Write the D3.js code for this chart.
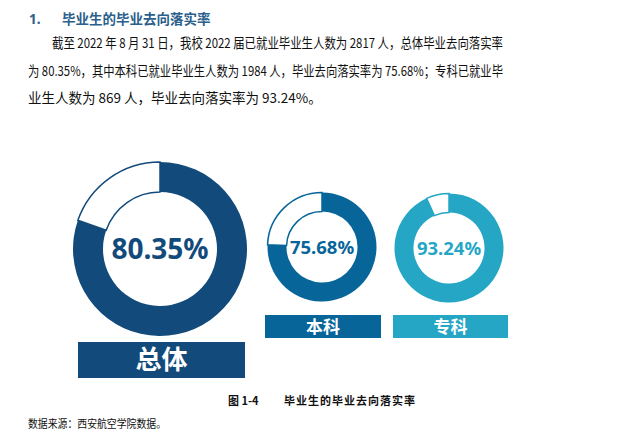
<!DOCTYPE html>
<html><head><meta charset="utf-8">
<script src="https://cdn.jsdelivr.net/npm/d3@7"></script>
<style>
body{margin:0;background:#fff;}
svg{display:block;}
text{font-family:"Noto Sans","Noto Sans CJK SC",sans-serif;}
</style></head>
<body>
<svg id="c" width="633" height="445"></svg>
<script>
const categories = ["总体", "本科", "专科"];
const rates = [80.35, 75.68, 93.24];
const colors = ["#124b7b", "#07659a", "#25a6c5"];
const titleText = "毕业生的毕业去向落实率";
const paragraph = [
  "截至 2022 年 8 月 31 日，我校 2022 届已就业毕业生人数为 2817 人，总体毕业去向落实率",
  "为 80.35%，其中本科已就业毕业生人数为 1984 人，毕业去向落实率为 75.68%；专科已就业毕",
  "业生人数为 869 人，毕业去向落实率为 93.24%。"
];
const caption = ["图 1-4", "毕业生的毕业去向落实率"];
const source = "数据来源：西安航空学院数据。";

const svg = d3.select("#c");

// heading
svg.append("text").attr("x", 29).attr("y", 24).attr("font-size", 13.5).attr("font-weight", "bold")
  .attr("fill", "#2b5f8c").text("1.");
svg.append("text").attr("x", 62).attr("y", 24).attr("font-size", 13.5).attr("font-weight", "bold")
  .attr("fill", "#2b5f8c").style("font-family", "'Noto Sans CJK SC',sans-serif").text(titleText);

// paragraph
const pLayout = [{x: 52, y: 48, w: 451}, {x: 28, y: 76, w: 475}, {x: 28, y: 103, w: null}];
paragraph.forEach((line, i) => {
  const t = svg.append("text").attr("x", pLayout[i].x).attr("y", pLayout[i].y)
    .attr("font-size", 13.5).attr("fill", "#111")
    .style("font-family", "'Noto Sans CJK SC',sans-serif").text(line);
  if (pLayout[i].w) t.attr("textLength", pLayout[i].w).attr("lengthAdjust", "spacingAndGlyphs");
});

// donuts
const layout = [
  {cx: 160, cy: 249, r: 87, ir: 57, fs: 28, box: [78, 342, 167, 36], lfs: 26},
  {cx: 322, cy: 247, r: 54.5, ir: 35.5, fs: 18.5, box: [265, 315, 116, 23], lfs: 17},
  {cx: 449, cy: 248, r: 54.5, ir: 35.5, fs: 18.5, box: [393, 315, 115, 23], lfs: 17}
];
const pie = d3.pie().sort(null).value(d => d);
categories.forEach((cat, i) => {
  const L = layout[i];
  const g = svg.append("g").attr("transform", `translate(${L.cx},${L.cy})`);
  const arc = d3.arc().innerRadius(L.ir).outerRadius(L.r);
  const arcsData = pie([rates[i], 100 - rates[i]]);
  g.selectAll("path").data(arcsData).join("path")
    .attr("d", arc)
    .attr("fill", (d, j) => j === 0 ? colors[i] : "#fff")
    .attr("stroke", (d, j) => j === 0 ? "none" : colors[i])
    .attr("stroke-width", 1.5);
  g.append("text").attr("text-anchor", "middle").attr("dy", "0.36em")
    .attr("font-size", L.fs).attr("font-weight", "bold").attr("fill", colors[i])
    .text(d3.format(".2f")(rates[i]) + "%");
  svg.append("rect").attr("x", L.box[0]).attr("y", L.box[1]).attr("width", L.box[2]).attr("height", L.box[3])
    .attr("fill", colors[i]);
  svg.append("text").attr("x", L.box[0] + L.box[2] / 2).attr("y", L.box[1] + L.box[3] / 2)
    .attr("dy", "0.36em").attr("text-anchor", "middle").attr("font-size", L.lfs).attr("font-weight", "bold")
    .attr("fill", "#fff").style("font-family", "'Noto Sans CJK SC',sans-serif").text(cat);
});

// caption
svg.append("text").attr("x", 228).attr("y", 405).attr("font-size", 11).attr("font-weight", "bold")
  .attr("fill", "#111").style("font-family", "'Noto Sans CJK SC',sans-serif").text(caption[0]);
svg.append("text").attr("x", 284).attr("y", 405).attr("font-size", 11).attr("font-weight", "bold")
  .attr("fill", "#111").attr("textLength", 131).attr("lengthAdjust", "spacing")
  .style("font-family", "'Noto Sans CJK SC',sans-serif").text(caption[1]);
svg.append("text").attr("x", 28).attr("y", 428).attr("font-size", 11)
  .attr("fill", "#111").attr("textLength", 138).attr("lengthAdjust", "spacingAndGlyphs")
  .style("font-family", "'Noto Sans CJK SC',sans-serif").text(source);
</script>
</body></html>
